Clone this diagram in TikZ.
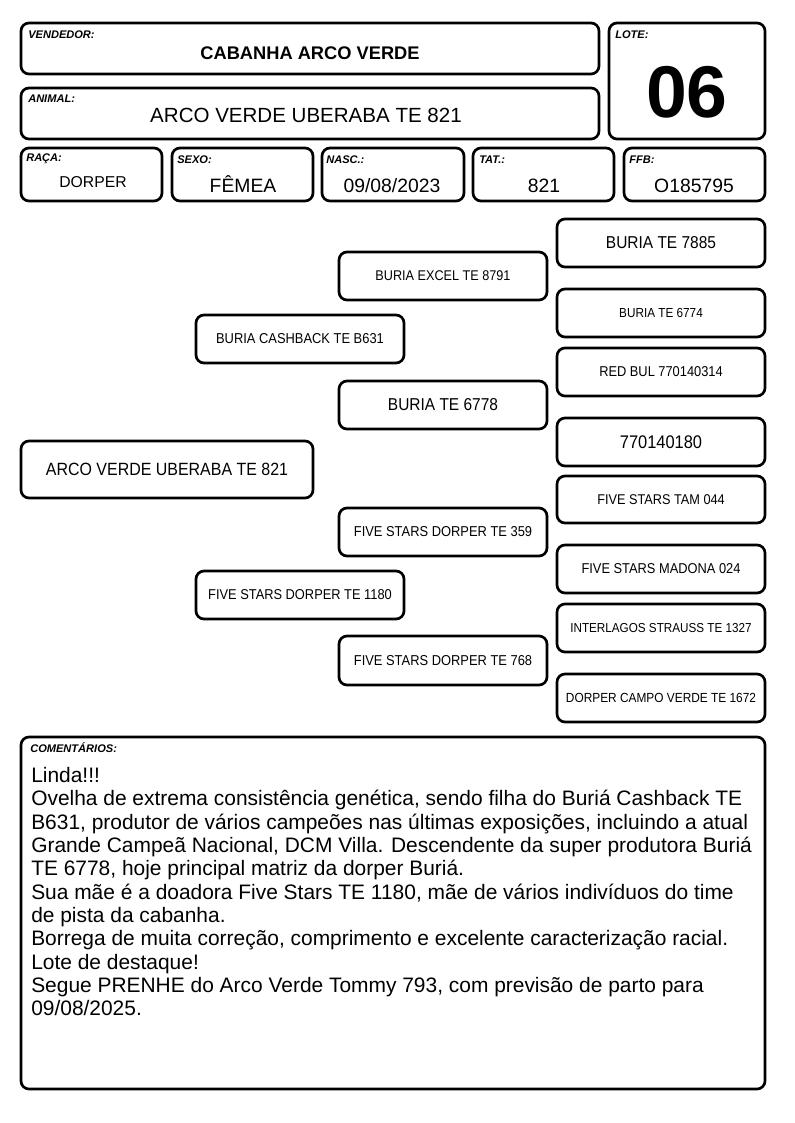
\documentclass[tikz,border=0pt]{standalone}
\usepackage{fontspec}
\setmainfont{Liberation Sans}
\newfontfamily\narrowf[FakeStretch=0.9]{Liberation Sans}
\newcommand\bxn[6]{\node[bx, minimum width={0.75pt*(#4-#2)}, minimum height={0.75pt*(#5-#3)}] (#1) at ({(#2+#4)/2},{(#3+#5)/2}) {#6};}
\newcommand\fsz[1]{\fontsize{#1}{#1}\selectfont}
\newcommand\nfs[1]{\narrowf\fontsize{#1}{#1}\selectfont}
\begin{document}
\begin{tikzpicture}[x=0.75pt,y=-0.75pt,
  bx/.style={draw=black, line width=2pt, rounded corners=6pt, fill=white, inner sep=0pt, align=center},
  lbl/.style={anchor=west, inner sep=0pt, font=\fontsize{8.3pt}{9pt}\selectfont\bfseries\itshape},
  val/.style={anchor=base, inner sep=0pt}]
\useasboundingbox[fill=white] (0,0) rectangle (794,1123);
% header
\bxn{vend}{21}{23}{599}{74}{}
\node[lbl] (vendl) at (28,35) {VENDEDOR:};
\node[val, font=\fsz{13.7pt}\bfseries] (vendv) at (310,60) {CABANHA ARCO VERDE};
\bxn{lote}{609}{23}{765}{139}{}
\node[lbl] (lotel) at (615,35) {LOTE:};
\node[val, font=\fsz{55pt}\bfseries] (lotev) at (687,118) {06};
\bxn{anim}{21}{88}{599}{139}{}
\node[lbl] (animl) at (28,99) {ANIMAL:};
\node[val, font=\fsz{15.4pt}] (animv) at (306,123) {ARCO VERDE UBERABA TE 821};
% row 3
\bxn{raca}{21}{148}{162}{201}{}
\node[lbl] (racal) at (26,159) {RAÇA:};
\node[val, font=\fsz{11.8pt}] (racav) at (93,188) {DORPER};
\bxn{sexo}{172}{148}{313}{201}{}
\node[lbl] (sexol) at (177,160) {SEXO:};
\node[val, font=\fsz{14.5pt}] (sexov) at (243,193) {FÊMEA};
\bxn{nasc}{322}{148}{464}{201}{}
\node[lbl] (nascl) at (326,160) {NASC.:};
\node[val, font=\fsz{14.5pt}] (nascv) at (392,193) {09/08/2023};
\bxn{tat}{473}{148}{614}{201}{}
\node[lbl] (tatl) at (479,160) {TAT.:};
\node[val, font=\fsz{14.5pt}] (tatv) at (544,193) {821};
\bxn{ffb}{624}{148}{765}{201}{}
\node[lbl] (ffbl) at (629,160) {FFB:};
\node[val, font=\fsz{14.5pt}] (ffbv) at (694,193) {O185795};
% pedigree
\bxn{p1}{557}{219}{765}{267}{\nfs{12.9pt}BURIA TE 7885}
\bxn{g1}{339}{252}{547}{300}{\nfs{10.55pt}BURIA EXCEL TE 8791}
\bxn{p2}{557}{289}{765}{337}{\nfs{9.8pt}BURIA TE 6774}
\bxn{s}{196}{315}{404}{363}{\nfs{10.75pt}BURIA CASHBACK TE B631}
\bxn{p3}{557}{348}{765}{396}{\nfs{10.7pt}RED BUL 770140314}
\bxn{g2}{339}{381}{547}{429}{\nfs{12.9pt}BURIA TE 6778}
\bxn{p4}{557}{418}{765}{466}{\nfs{13.7pt}770140180}
\bxn{a}{21}{441}{313}{498}{\nfs{13.3pt}ARCO VERDE UBERABA TE 821}
\bxn{p5}{557}{476}{765}{523}{\nfs{10.6pt}FIVE STARS TAM 044}
\bxn{g3}{339}{508}{547}{556}{\nfs{10.75pt}FIVE STARS DORPER TE 359}
\bxn{p6}{557}{545}{765}{593}{\nfs{10.7pt}FIVE STARS MADONA 024}
\bxn{d}{196}{571}{404}{619}{\nfs{10.7pt}FIVE STARS DORPER TE 1180}
\bxn{p7}{557}{604}{765}{652}{\nfs{9.75pt}INTERLAGOS STRAUSS TE 1327}
\bxn{g4}{339}{636}{547}{685}{\nfs{10.75pt}FIVE STARS DORPER TE 768}
\bxn{p8}{557}{674}{765}{722}{\nfs{9.9pt}DORPER CAMPO VERDE TE 1672}
% comments
\bxn{com}{21}{737}{765}{1089}{}
\node[lbl] (coml) at (30,748) {COMENTÁRIOS:};
\node[anchor=north west, inner sep=0pt, align=left, font=\fontsize{15.7pt}{17.5pt}\selectfont] (comv) at (31,767) {Linda!!!\\
Ovelha de extrema consistência genética, sendo filha do Buriá Cashback TE\\
B631, produtor de vários campeões nas últimas exposições, incluindo a atual\\
Grande Campeã Nacional, DCM Villa. Descendente da super produtora Buriá\\
TE 6778, hoje principal matriz da dorper Buriá.\\
Sua mãe é a doadora Five Stars TE 1180, mãe de vários indivíduos do time\\
de pista da cabanha.\\
Borrega de muita correção, comprimento e excelente caracterização racial.\\
Lote de destaque!\\
Segue PRENHE do Arco Verde Tommy 793, com previsão de parto para\\
09/08/2025.};
\end{tikzpicture}
\end{document}
